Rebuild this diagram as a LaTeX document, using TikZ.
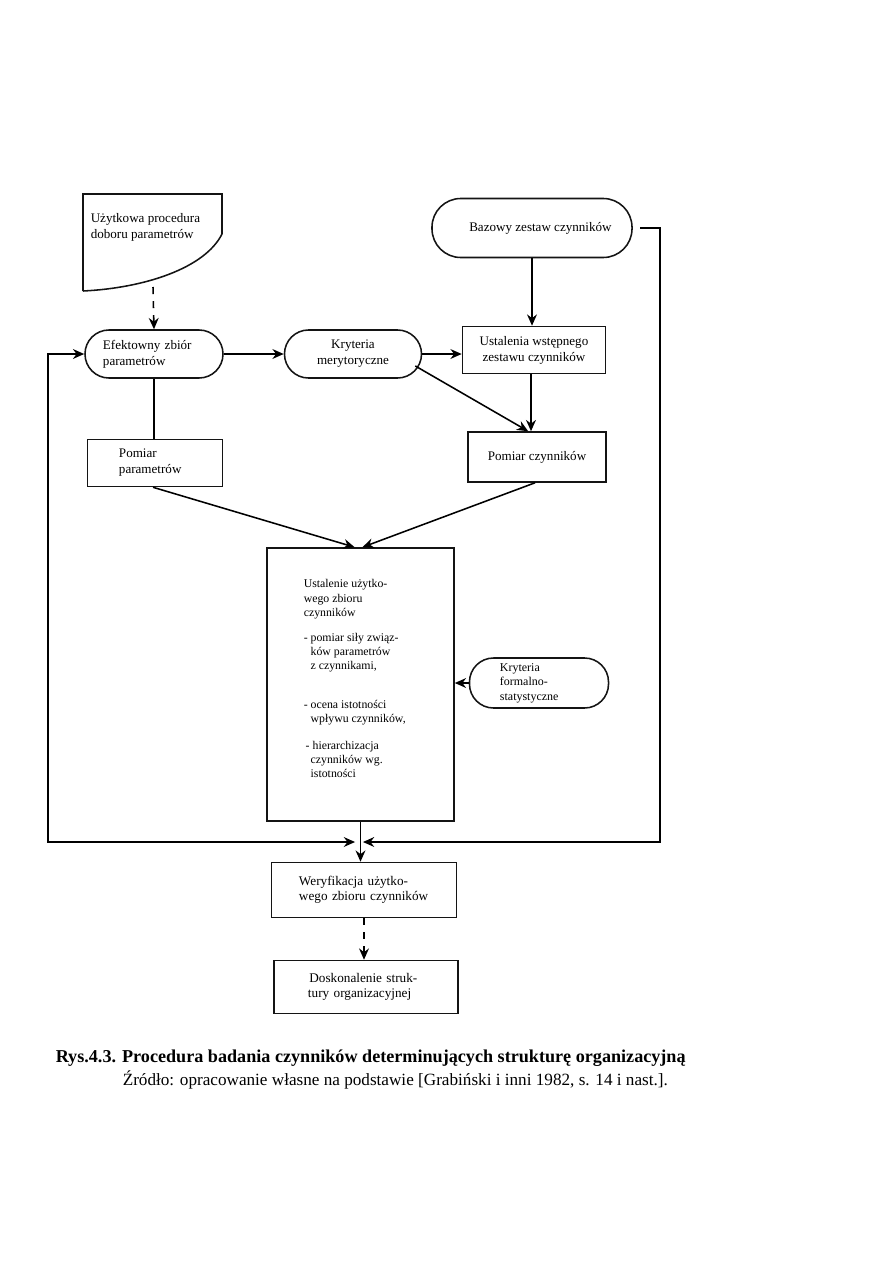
\documentclass[tikz,border=0pt]{standalone}
\usepackage{fontspec}
\setmainfont{Liberation Serif}
\usetikzlibrary{arrows.meta, calc}
\definecolor{ink}{HTML}{141414}

\begin{document}
\begin{tikzpicture}[
  x=0.025cm, y=-0.025cm,
  line width=1.1pt, line join=miter,
  >={Stealth[length=8pt, width=7pt]},
  box/.style  = {draw=ink, rectangle, inner sep=2pt, anchor=center,
                 font=\fontsize{9.3}{11.4}\selectfont, align=center},
  pill/.style = {box, rounded corners=0.6cm},
  txt/.style  = {font=\fontsize{9.3}{11.4}\selectfont, align=left, inner sep=0pt},
  small/.style = {font=\fontsize{8.4}{10}\selectfont, align=left, inner sep=0pt},
  captxt/.style  = {font=\fontsize{12.2}{14}\selectfont, inner sep=0pt, anchor=base west},
  dsh/.style  = {dash pattern=on 5pt off 5pt}
]
\useasboundingbox (0,0) rectangle (893,1263);

% dokument wejsciowy
\coordinate (dtl) at (83,194);
\coordinate (dtr) at (222,194);
\coordinate (dr)  at (222,234);
\coordinate (dbl) at (83,291);
\coordinate (dbot) at (153,287);
\draw[ink] (dbl) -- (dtl) -- (dtr) -- (dr)
  .. controls (205,268) and (145,288) .. (dbl);
\node[txt, anchor=north west] (doc) at (90,213) {Użytkowa procedura\\doboru parametrów};

\node[pill, rounded corners=0.72cm, minimum width=5cm, minimum height=1.475cm] (baz) at (532,228) {\hspace*{12pt}Bazowy zestaw czynników};

\node[pill, minimum width=3.45cm, minimum height=1.2cm, text width=2.55cm, align=left] (eff) at (154,354) {Efektowny zbiór\\parametrów};
\node[pill, minimum width=3.425cm, minimum height=1.2cm] (kme) at (353,354) {Kryteria\\merytoryczne};
\node[box, minimum width=3.575cm, minimum height=1.175cm] (ust) at (534,350) {Ustalenia wstępnego\\zestawu czynników};

\node[box, minimum width=3.375cm, minimum height=1.175cm, text width=1.8cm, align=left] (ppa) at (155,463) {Pomiar\\parametrów};
\node[box, minimum width=3.45cm, minimum height=1.25cm] (pcz) at (537,457) {Pomiar czynników};

% blok centralny
\node[box, minimum width=4.675cm, minimum height=6.825cm] (cen) at (360.5,684.5) {};
\node[small, anchor=north west] (centxt) at (303,579) {%
Ustalenie użytko-\\wego zbioru\\czynników\\[8pt]
- pomiar siły związ-\\\phantom{- }ków parametrów\\\phantom{- }z czynnikami,\\[18pt]
- ocena istotności\\\phantom{- }wpływu czynników,\\[9pt]
\hspace*{1.4pt}- hierarchizacja\\\phantom{- }czynników wg.\\\phantom{- }istotności};

\node[pill, minimum width=3.475cm, minimum height=1.25cm, text width=1.95cm, align=left,
      font=\fontsize{8.5}{10.4}\selectfont] (kfs) at (539,683) {Kryteria\\formalno-\\statystyczne};

\node[box, minimum width=4.625cm, minimum height=1.375cm, text width=3.25cm, align=left,
      font=\fontsize{9.4}{10.8}\selectfont] (wer) at (364,890) {Weryfikacja użytko-\\wego zbioru czynników};
\node[box, minimum width=4.6cm, minimum height=1.325cm, text width=2.9cm, align=left,
      font=\fontsize{9.4}{10.8}\selectfont] (dos) at (366,987) {\hspace*{1pt}Doskonalenie struk-\\tury organizacyjnej};

% punkty pomocnicze
\coordinate (lx)  at (48,0);
\coordinate (rx)  at (660,0);
\coordinate (rs)  at (640,228);
\coordinate (mrg) at (359,842);
\coordinate (uc)  at (531,0);

% przeplyw glowny
\draw[->, dsh] (dbot) -- (eff.north);
\draw[->] (eff.east) -- (kme.west);
\draw[->] (kme.east) -- (kme.east -| ust.west);
\draw[->] (baz.south) -- (baz.south |- ust.north);
\draw[->] (uc |- ust.south) -- (uc |- pcz.north);
\draw[->] ([shift={(-5pt,-8.5pt)}]kme.east) -- ([xshift=-2pt]uc |- pcz.north);
\draw (eff.south) -- (eff.south |- ppa.north);

\draw[->] ([xshift=-1.4pt]ppa.south) -- ([xshift=-4.2pt]cen.north);
\draw[->] ([xshift=-1.4pt]pcz.south) -- ([xshift=1.4pt]cen.north);
\draw[->] (kfs.west) -- (kfs.west -| cen.east);

% sprzezenia zwrotne
\draw[<->] (eff.west) -- (eff.west -| lx) -- (lx |- mrg) -- ([xshift=-2.8pt]mrg);
\draw[->] (rs) -- (rs -| rx) -- (rx |- mrg) -- ([xshift=2.8pt]mrg);

\draw[->] (cen.south) -- (cen.south |- wer.north);
\draw[->, dsh] (wer.south) -- (wer.south |- dos.north);

% podpis
\node[captxt, font=\fontsize{12.9}{14}\selectfont\bfseries] (cap1) at (55,1062) {Rys.4.3. Procedura badania czynników determinujących strukturę organizacyjną};
\node[captxt] (cap2) at (122,1085) {Źródło: opracowanie własne na podstawie [Grabiński i inni 1982, s. 14 i nast.].};
\end{tikzpicture}
\end{document}
